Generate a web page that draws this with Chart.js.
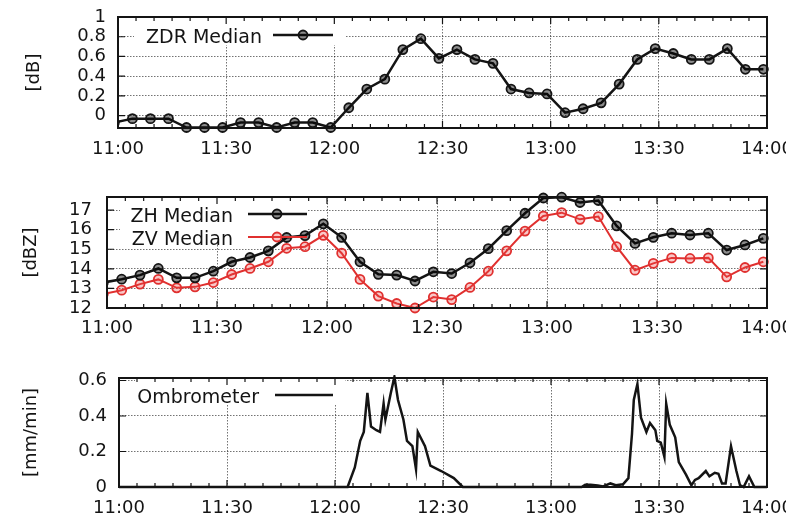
<!DOCTYPE html>
<html>
<head>
<meta charset="utf-8">
<script src="https://cdn.jsdelivr.net/npm/chart.js@4/dist/chart.umd.min.js"></script>
<style>
  html, body { margin: 0; padding: 0; background: #fff; }
  body { width: 803px; height: 516px; position: relative; overflow: hidden; }
  canvas { position: absolute; left: 0; }
</style>
</head>
<body>
<canvas id="zdr" width="786" height="170" style="top:0px"></canvas>
<canvas id="zhv" width="786" height="165" style="top:180px"></canvas>
<canvas id="rain" width="786" height="156" style="top:360px"></canvas>
<script>
// Radar scan times and medians of the polarimetric moments
const radarTimes = ['10:59', '11:04', '11:09', '11:14', '11:19', '11:24', '11:29', '11:34', '11:39',
  '11:44', '11:49', '11:54', '11:59', '12:04', '12:09', '12:14', '12:19', '12:24', '12:29',
  '12:34', '12:39', '12:44', '12:49', '12:54', '12:59', '13:04', '13:09', '13:14', '13:19',
  '13:24', '13:29', '13:34', '13:39', '13:44', '13:49', '13:54', '13:59'];
const zdrMedian = [-0.07, -0.03, -0.03, -0.03, -0.12, -0.12, -0.12, -0.07, -0.07, -0.12, -0.07, -0.07, -0.12,
  0.08, 0.27, 0.37, 0.67, 0.78, 0.58, 0.67, 0.57, 0.53, 0.27, 0.23, 0.22,
  0.03, 0.07, 0.13, 0.32, 0.57, 0.68, 0.63, 0.57, 0.57, 0.68, 0.47, 0.47];
const zhMedian = [13.3, 13.47, 13.68, 14.02, 13.54, 13.54, 13.88, 14.36, 14.58, 14.92, 15.6, 15.7, 16.3,
  15.61, 14.36, 13.72, 13.68, 13.38, 13.85, 13.76, 14.31, 15.03, 15.95, 16.84, 17.62,
  17.66, 17.39, 17.49, 16.19, 15.3, 15.61, 15.82, 15.73, 15.82, 14.96, 15.22, 15.56];
const zvMedian = [12.72, 12.91, 13.22, 13.46, 13.03, 13.08, 13.3, 13.71, 14.02, 14.36, 15.05, 15.13, 15.71,
  14.8, 13.46, 12.61, 12.23, 12.0, 12.56, 12.43, 13.05, 13.88, 14.92, 15.93, 16.7,
  16.87, 16.53, 16.67, 15.13, 13.93, 14.28, 14.56, 14.53, 14.56, 13.59, 14.07, 14.36];

// Rain gauge (ombrometer) record
const gaugeTimes = ['11:00:00', '12:03:30', '12:05:30', '12:07:00', '12:08:00', '12:09:00', '12:10:00',
  '12:11:30', '12:12:30', '12:13:30', '12:14:00', '12:15:30', '12:16:30', '12:17:30', '12:19:00',
  '12:20:00', '12:21:30', '12:22:30', '12:23:00', '12:25:00', '12:26:30', '12:29:30', '12:33:00',
  '12:35:30', '13:08:30', '13:09:30', '13:11:00', '13:13:00', '13:14:30', '13:16:30', '13:18:00',
  '13:20:00', '13:21:30', '13:22:30', '13:23:00', '13:24:00', '13:25:00', '13:26:30', '13:27:30',
  '13:29:00', '13:29:30', '13:30:30', '13:31:30', '13:32:00', '13:33:00', '13:34:30', '13:35:30',
  '13:37:30', '13:39:00', '13:40:00', '13:41:00', '13:43:00', '13:44:00', '13:45:30', '13:46:30',
  '13:47:30', '13:48:30', '13:50:00', '13:51:30', '13:52:30', '13:53:30', '13:55:00', '13:56:30',
  '14:00:00'];
const gaugeRate = [0, 0, 0.11, 0.26, 0.31, 0.53, 0.34,
  0.32, 0.31, 0.47, 0.38, 0.53, 0.62, 0.49, 0.38,
  0.26, 0.23, 0.10, 0.31, 0.23, 0.12, 0.09, 0.05,
  0, 0, 0.012, 0.012, 0.008, 0.003, 0.02, 0.01,
  0.015, 0.05, 0.30, 0.49, 0.58, 0.39, 0.31, 0.36,
  0.32, 0.26, 0.25, 0.17, 0.47, 0.35, 0.28, 0.14,
  0.07, 0.01, 0.04, 0.05, 0.09, 0.06, 0.08, 0.075,
  0.02, 0.02, 0.23, 0.09, 0.01, 0, 0.06, 0,
  0];

// Tick labels
const timeTicks = ['11:00', '11:30', '12:00', '12:30', '13:00', '13:30', '14:00'];
const zdrTicks = [0, 0.2, 0.4, 0.6, 0.8, 1];
const zTicks = [12, 13, 14, 15, 16, 17];
const rainTicks = [0, 0.2, 0.4, 0.6];

const INK = '#141414';
const GRID = 'rgba(0,0,0,0.55)';
const RED = '#e0302f';
const FONT = 'DejaVu Sans';

Chart.defaults.font.family = FONT;
Chart.defaults.font.size = 18;
Chart.defaults.color = INK;

function toMinutes(t) {
  const [h, m, s] = t.split(':').map(Number);
  return (h - 11) * 60 + m + (s || 0) / 60;
}
function fmtTime(v) {
  const h = 11 + Math.floor(v / 60);
  const m = Math.round(v - (h - 11) * 60);
  return h + ':' + String(m).padStart(2, '0');
}
const series = (times, values) => times.map((t, i) => ({ x: toMinutes(t), y: values[i] }));

// Frame, inward tick marks and the in-plot key
const framePlugin = {
  id: 'frame',
  beforeDatasetsDraw(chart, _args, o) {
    const { ctx, chartArea: a } = chart;
    const b = o.keyBox;
    ctx.save();
    ctx.fillStyle = '#fff';
    ctx.fillRect(a.left + b.x0, a.top, b.x1 - b.x0, b.h);
    ctx.restore();
  },
  afterDatasetsDraw(chart, _args, o) {
    const { ctx, chartArea: a, scales: { x, y } } = chart;
    ctx.save();
    ctx.strokeStyle = INK;
    ctx.lineWidth = 1.2;
    ctx.beginPath();
    for (let m = x.min; m <= x.max; m += 5) {
      const px = x.getPixelForValue(m);
      const len = m % 30 === 0 ? 7 : 4;
      ctx.moveTo(px, a.bottom); ctx.lineTo(px, a.bottom - len);
      ctx.moveTo(px, a.top); ctx.lineTo(px, a.top + len);
    }
    y.ticks.forEach(t => {
      const py = y.getPixelForValue(t.value);
      ctx.moveTo(a.left, py); ctx.lineTo(a.left + 7, py);
      ctx.moveTo(a.right, py); ctx.lineTo(a.right - 7, py);
    });
    ctx.stroke();

    ctx.lineWidth = 2;
    ctx.strokeRect(a.left, a.top, a.right - a.left, a.bottom - a.top);

    ctx.font = '19px "' + FONT + '"';
    ctx.textAlign = 'right';
    ctx.textBaseline = 'alphabetic';
    o.rows.forEach((rowY, i) => {
      const ds = chart.data.datasets[i];
      const ly = a.top + rowY;
      ctx.fillStyle = INK;
      ctx.fillText(ds.label, a.left + o.textRight, ly + 7.5);
      ctx.strokeStyle = ds.borderColor;
      ctx.lineWidth = ds.borderWidth;
      ctx.beginPath();
      ctx.moveTo(a.left + o.lineFrom, ly);
      ctx.lineTo(a.left + o.lineTo, ly);
      ctx.stroke();
      if (ds.pointRadius > 0) {
        ctx.beginPath();
        ctx.arc(a.left + o.markAt, ly, ds.pointRadius, 0, Math.PI * 2);
        ctx.fillStyle = ds.pointBackgroundColor;
        ctx.fill();
        ctx.lineWidth = ds.pointBorderWidth;
        ctx.strokeStyle = ds.pointBorderColor;
        ctx.stroke();
      }
    });
    ctx.restore();
  }
};

const X_AXIS_H = 30;

function panel(id, p) {
  const canvas = document.getElementById(id);
  const W = canvas.width, H = canvas.height;
  return new Chart(canvas, {
    type: 'line',
    data: { datasets: p.datasets },
    options: {
      responsive: false,
      animation: false,
      devicePixelRatio: 1,
      events: [],
      layout: { padding: { left: 0, top: p.top, right: W - p.right, bottom: H - p.bottom - X_AXIS_H } },
      plugins: {
        legend: { display: false },
        tooltip: { enabled: false },
        frame: p.key
      },
      scales: {
        x: {
          type: 'linear',
          min: toMinutes(timeTicks[0]),
          max: toMinutes(timeTicks[timeTicks.length - 1]),
          afterBuildTicks: s => { s.ticks = timeTicks.map(t => ({ value: toMinutes(t) })); },
          afterFit: s => { s.height = X_AXIS_H; s.paddingLeft = 0; s.paddingRight = 0; },
          ticks: { callback: v => fmtTime(v), padding: p.xPad, maxRotation: 0, autoSkip: false, color: INK },
          grid: { color: GRID, lineWidth: 1, drawTicks: false },
          border: { display: false, dash: [1.5, 1.5] }
        },
        y: {
          type: 'linear',
          min: p.yMin,
          max: p.yMax,
          afterBuildTicks: s => { s.ticks = p.yTicks.map(v => ({ value: v })); },
          afterFit: s => { s.width = p.left; s.paddingTop = 0; s.paddingBottom = 0; },
          ticks: { callback: v => String(+v.toFixed(2)), padding: p.yPad, color: INK, autoSkip: false },
          title: { display: true, text: p.yTitle, color: INK, font: { size: 18 }, padding: { top: p.titlePad, bottom: 0 } },
          grid: { color: GRID, lineWidth: 1, drawTicks: false },
          border: { display: false, dash: [1.5, 1.5] }
        }
      }
    },
    plugins: [framePlugin]
  });
}

const markerLine = (label, values, color, fill, width) => ({
  label,
  data: series(radarTimes, values),
  borderColor: color,
  borderWidth: width,
  pointRadius: 4.5,
  pointBorderWidth: 1.8,
  pointBorderColor: color,
  pointBackgroundColor: fill,
  tension: 0,
  clip: { left: 0, top: 6, right: 6, bottom: 6 }
});

panel('zdr', {
  top: 17, bottom: 128, left: 118, right: 767,
  yMin: -0.125, yMax: 1, yTicks: zdrTicks, yTitle: '[dB]',
  titlePad: 24, yPad: 12, xPad: 11,
  datasets: [markerLine('ZDR Median', zdrMedian, INK, 'rgba(0,0,0,0.45)', 2.5)],
  key: { keyBox: { x0: 16, x1: 227, h: 28 }, rows: [18], textRight: 144, lineFrom: 155, lineTo: 215, markAt: 185 }
});

panel('zhv', {
  top: 17, bottom: 128, left: 107, right: 767,
  yMin: 12, yMax: 17.67, yTicks: zTicks, yTitle: '[dBZ]',
  titlePad: 21, yPad: 15, xPad: 10,
  datasets: [
    markerLine('ZH Median', zhMedian, INK, 'rgba(0,0,0,0.45)', 2.5),
    markerLine('ZV Median', zvMedian, RED, 'rgba(235,70,70,0.3)', 2)
  ],
  key: { keyBox: { x0: 13, x1: 200, h: 46 }, rows: [17, 40], textRight: 126, lineFrom: 141, lineTo: 200, markAt: 170 }
});

panel('rain', {
  top: 18, bottom: 127, left: 119, right: 767,
  yMin: 0, yMax: 0.614, yTicks: rainTicks, yTitle: '[mm/min]',
  titlePad: 21, yPad: 12, xPad: 11,
  datasets: [{
    label: 'Ombrometer',
    data: series(gaugeTimes, gaugeRate),
    borderColor: INK,
    borderWidth: 2.5,
    pointRadius: 0,
    tension: 0,
    clip: { left: 0, top: 3, right: 3, bottom: 3 }
  }],
  key: { keyBox: { x0: 16, x1: 226, h: 27 }, rows: [17], textRight: 140, lineFrom: 156, lineTo: 214, markAt: 185 }
});
</script>
</body>
</html>
